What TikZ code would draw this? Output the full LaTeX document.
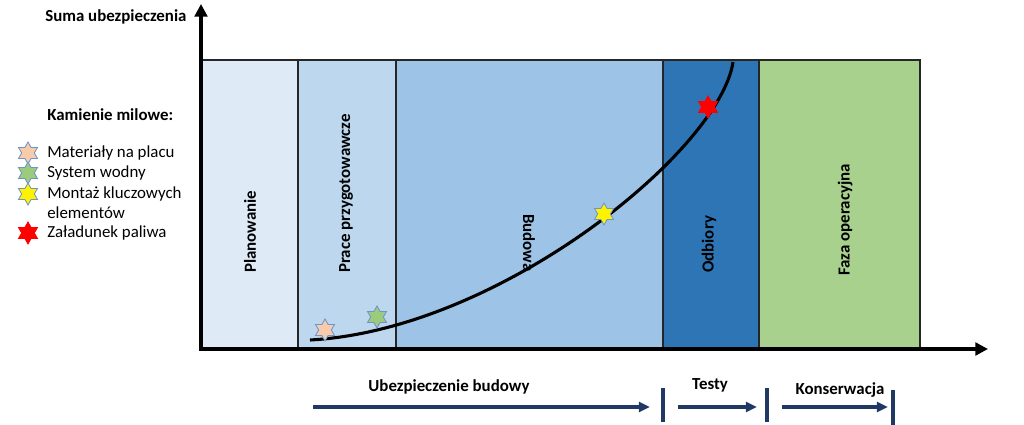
\documentclass[tikz,border=0pt]{standalone}
\usepackage{fontspec}
\setmainfont{Carlito}
\usetikzlibrary{arrows.meta,shapes.geometric}
\definecolor{cPlan}{HTML}{DEEBF7}
\definecolor{cPrace}{HTML}{BDD7EE}
\definecolor{cBud}{HTML}{9DC3E6}
\definecolor{cOdb}{HTML}{2E75B6}
\definecolor{cFaza}{HTML}{A9D18E}
\definecolor{navy}{HTML}{1F3864}
\definecolor{starline}{HTML}{6F95C8}
\definecolor{cPeach}{HTML}{F8CBAD}
\definecolor{cGreen}{HTML}{9DCB7E}
\tikzset{
  phase/.style={draw=black!85, line width=1.1pt, inner sep=0pt, outer sep=0pt, anchor=north west, minimum height=7.225cm},
  plabel/.style={font=\fontsize{12}{14}\selectfont\bfseries, inner sep=0pt},
  axisline/.style={line width=2.2pt, -{Triangle[length=9pt,width=9pt]}},
  mstar/.style={star, star points=6, star point ratio=1.75, minimum size=0.55cm, inner sep=0pt, draw=starline, line width=0.6pt},
  legtext/.style={font=\fontsize{12}{14}\selectfont, anchor=west, inner sep=0pt, align=left},
  legbold/.style={font=\fontsize{12}{14}\selectfont\bfseries, anchor=west, inner sep=0pt},
  tarrow/.style={navy, line width=2.2pt, -{Triangle[length=8pt,width=7pt]}},
  tbar/.style={navy, line width=2.2pt},
  ttext/.style={font=\fontsize{12}{14}\selectfont\bfseries, inner sep=0pt}
}
\begin{document}
\begin{tikzpicture}[x=0.025cm,y=-0.025cm]
\useasboundingbox (0,0) rectangle (1024,425);
% phases
\node[phase, fill=cPlan,  minimum width=2.425cm] (plan) at (201,60) {};
\node[phase, fill=cPrace, minimum width=2.45cm]  (prace) at (298,60) {};
\node[phase, fill=cBud,   minimum width=6.675cm] (bud) at (396,60) {};
\node[phase, fill=cOdb,   minimum width=2.4cm]   (odb) at (663,60) {};
\node[phase, fill=cFaza,  minimum width=4.025cm] (faza) at (759,60) {};
% phase labels
\node[plabel, rotate=90, anchor=west] (lplan) at (250,273) {Planowanie};
\node[plabel, rotate=90, anchor=west] (lprace) at (346,273) {Prace przygotowawcze};
\node[plabel, rotate=-90, anchor=west] (lbud) at (529,214) {Budowa};
\node[plabel, rotate=90, anchor=west] (lodb) at (709,273) {Odbiory};
\node[plabel, rotate=90, anchor=west] (lfaza) at (845,276) {Faza operacyjna};
% axes
\coordinate (origin) at (201,349);
\coordinate (ytop) at (201,4);
\coordinate (xend) at (988,349);
\draw[axisline] ([yshift=-0.5pt]origin) -- (ytop);
\draw[axisline] ([xshift=-1.1pt]origin) -- (xend);
% curve
\coordinate (cs) at (310,340);
\coordinate (ce) at (733,62);
\draw[line width=2.2pt] (cs) .. controls (500,330) and (720,150) .. (ce);
% milestones on curve
\node[mstar, fill=cPeach] (s1) at (325,330) {};
\node[mstar, fill=cGreen] (s2) at (377,317) {};
\node[mstar, fill=yellow] (s3) at (604,214) {};
\node[mstar, fill=red, draw=red] (s4) at (708,107) {};
% legend
\node[legbold] (ytitle) at (45,17) {Suma ubezpieczenia};
\node[legbold] (ktitle) at (47,115) {Kamienie milowe:};
\node[mstar, fill=cPeach] (l1) at (28,153) {};
\node[mstar, fill=cGreen] (l2) at (28,173) {};
\node[mstar, fill=yellow] (l3) at (28,194) {};
\node[mstar, fill=red, draw=red] (l4) at (28,233) {};
\node[legtext] (t1) at (47,153) {Materiały na placu};
\node[legtext] (t2) at (47,173) {System wodny};
\node[legtext] (t3) at (47,203) {Montaż kluczowych\\elementów};
\node[legtext] (t4) at (47,233) {Załadunek paliwa};
% timeline
\coordinate (a1s) at (313,407); \coordinate (a1e) at (650,407);
\coordinate (a2s) at (678,407); \coordinate (a2e) at (757,407);
\coordinate (a3s) at (782,407); \coordinate (a3e) at (888,407);
\coordinate (b1t) at (663,388); \coordinate (b1b) at (663,422);
\coordinate (b2t) at (767,388); \coordinate (b2b) at (767,422);
\coordinate (b3t) at (893,390); \coordinate (b3b) at (893,425);
\draw[tarrow] (a1s) -- (a1e);
\draw[tarrow] (a2s) -- (a2e);
\draw[tarrow] (a3s) -- (a3e);
\draw[tbar] (b1t) -- (b1b);
\draw[tbar] (b2t) -- (b2b);
\draw[tbar] (b3t) -- (b3b);
\node[ttext] (tu) at (449,387) {Ubezpieczenie budowy};
\node[ttext] (tt) at (710,385) {Testy};
\node[ttext] (tk) at (840,390) {Konserwacja};
\end{tikzpicture}
\end{document}
